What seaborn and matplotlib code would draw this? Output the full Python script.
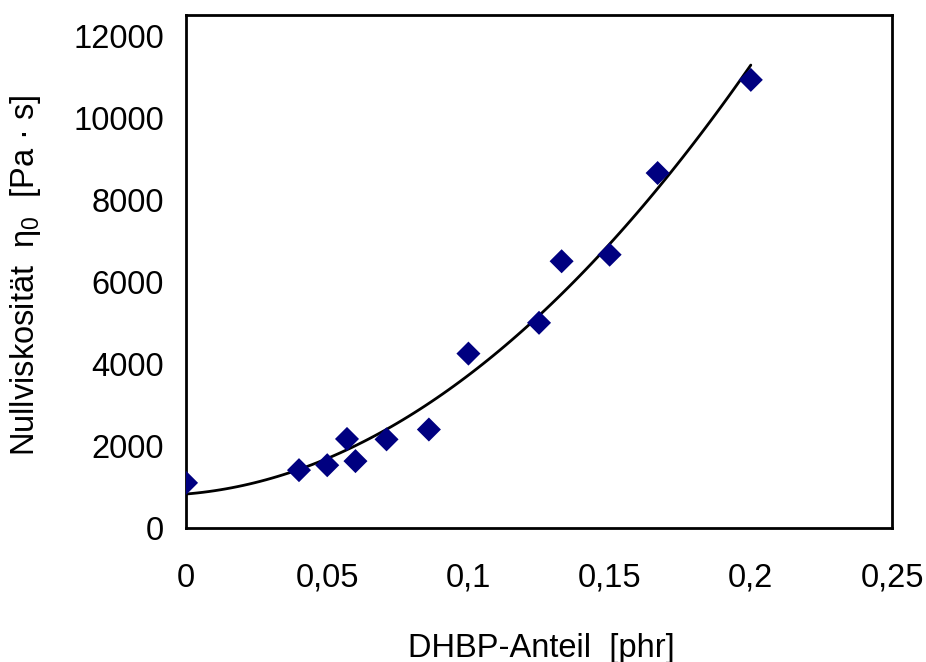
import matplotlib
matplotlib.use("Agg")
import matplotlib.pyplot as plt
import numpy as np
import pandas as pd
import seaborn as sns
from matplotlib.ticker import FuncFormatter, FixedLocator

# Zero-shear viscosity vs. DHBP content
dhbp_phr = [0, 0.04, 0.05, 0.057, 0.06, 0.071, 0.086, 0.1, 0.125, 0.133, 0.15, 0.167, 0.2]
eta0_pas = [1100, 1410, 1530, 2170, 1630, 2160, 2400, 4250, 5000, 6500, 6660, 8650, 10920]

x_ticks = [0, 0.05, 0.1, 0.15, 0.2, 0.25]
y_ticks = [0, 2000, 4000, 6000, 8000, 10000, 12000]

df = pd.DataFrame({"dhbp": dhbp_phr, "eta0": eta0_pas})

sns.set_theme(style="white")
plt.rcParams["font.family"] = ["Liberation Sans", "DejaVu Sans"]
plt.rcParams["mathtext.fontset"] = "custom"
plt.rcParams["mathtext.rm"] = "Liberation Sans"
plt.rcParams["mathtext.it"] = "Liberation Sans"

fig = plt.figure(figsize=(9.26, 6.62), dpi=100)
ax = fig.add_axes([0.2009, 0.2024, 0.9633 - 0.2009, 0.9773 - 0.2024])

# second-order polynomial trend line
sns.regplot(data=df, x="dhbp", y="eta0", order=2, ci=None, truncate=True,
            scatter=False, ax=ax, line_kws={"color": "black", "lw": 2.0})
sns.scatterplot(data=df, x="dhbp", y="eta0", marker="D", s=150,
                color="#000080", edgecolor="none", ax=ax, zorder=3)

ax.set_xlim(0, 0.25)
ax.set_ylim(0, 12500)
ax.xaxis.set_major_locator(FixedLocator(x_ticks))
ax.yaxis.set_major_locator(FixedLocator(y_ticks))


def comma_fmt(v, pos):
    s = f"{v:.2f}".rstrip("0").rstrip(".")
    return s.replace(".", ",")


ax.xaxis.set_major_formatter(FuncFormatter(comma_fmt))
ax.yaxis.set_major_formatter(FuncFormatter(lambda v, p: f"{int(v)}"))

ax.tick_params(axis="both", direction="in", length=8, width=1.6,
               colors="black", labelsize=23.5)
ax.tick_params(axis="x", pad=25)
ax.tick_params(axis="y", pad=16)

for sp in ax.spines.values():
    sp.set_visible(True)
    sp.set_color("black")
    sp.set_linewidth(2.0)

ax.set_xlabel("DHBP-Anteil  [phr]", fontsize=23.5, color="black")
ax.set_ylabel("Nullviskosität  $\\eta_0$  [Pa · s]", fontsize=23.5, color="black")
ax.xaxis.label.set_va("center")
ax.yaxis.label.set_va("center")
ax.xaxis.set_label_coords(0.503, -0.234)
ax.yaxis.set_label_coords(-0.228, 0.493)

fig.savefig("out.png", dpi=100)
